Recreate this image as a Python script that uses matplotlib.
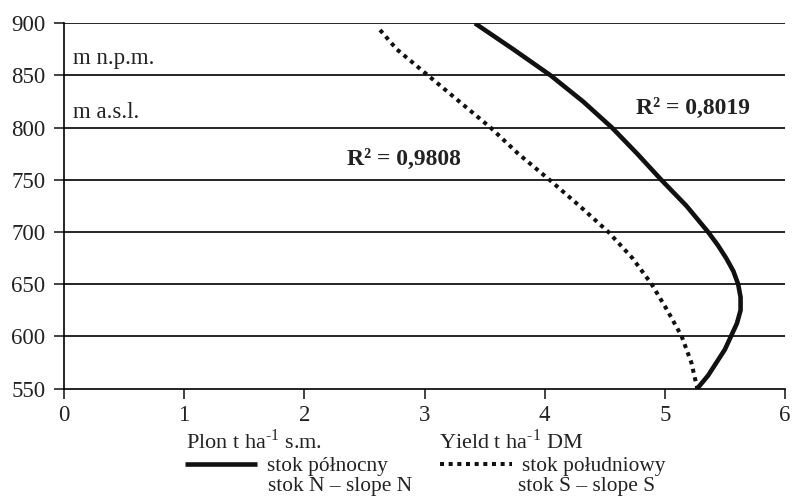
import numpy as np
import matplotlib.pyplot as plt

plt.rcParams['font.family'] = ['Liberation Serif', 'DejaVu Serif']
plt.rcParams['mathtext.fontset'] = 'custom'
plt.rcParams['mathtext.rm'] = 'Liberation Serif'

# altitude (m a.s.l.) and yield (t/ha DM)
alt_n = [900, 875, 850, 825, 800, 775, 750, 725, 700, 687.5, 675, 662.5, 650, 637.5,
         625, 612.5, 600, 587.5, 575, 562.5, 550]
yield_n = [3.42, 3.74, 4.05, 4.32, 4.56, 4.77, 4.97, 5.18, 5.36, 5.44, 5.51, 5.57, 5.61, 5.63,
           5.63, 5.60, 5.55, 5.50, 5.43, 5.36, 5.27]
alt_s = [893.6, 875, 850, 825, 800, 775, 750, 725, 700, 675, 650, 625, 600, 575, 550]
yield_s = [2.63, 2.77, 3.03, 3.29, 3.55, 3.78, 4.04, 4.29, 4.53, 4.73, 4.89, 5.02, 5.14, 5.22, 5.27]

r2_n = 'R² = 0,8019'
r2_s = 'R² = 0,9808'

fig = plt.figure(figsize=(7.92, 4.96), dpi=100)
ax = fig.add_axes([0.0808, 0.2167, 0.9104, 0.7363])

line_n, = ax.plot(yield_n, alt_n, color='#111111', lw=3.3, solid_capstyle='butt',
                  solid_joinstyle='round')
line_s, = ax.plot(yield_s, alt_s, color='#111111', lw=2.9, linestyle=(0, (1, 1.15)))

ax.set_xlim(0, 6)
ax.set_ylim(550, 900)
ax.set_xticks(range(0, 7))
ax.set_yticks(range(550, 901, 50))
for y in range(600, 901, 50):
    ax.axhline(y, color='black', lw=1.2, zorder=0)
for s in ['top', 'right']:
    ax.spines[s].set_visible(False)
for s in ['left', 'bottom']:
    ax.spines[s].set_linewidth(1.2)
ax.tick_params(axis='both', labelsize=16.5, length=7, width=1.2, direction='out', colors='#222222')
ax.tick_params(axis='x', pad=5)
ax.tick_params(axis='y', pad=6.5)

ax.text(0.075, 866, 'm n.p.m.', fontsize=16.5, va='center', color='#222222')
ax.text(0.075, 815, 'm a.s.l.', fontsize=16.5, va='center', color='#222222')
ax.text(4.76, 818, r2_n, fontsize=17, fontweight='bold', va='center', color='#222222')
ax.text(2.355, 770, r2_s, fontsize=17, fontweight='bold', va='center', color='#222222')

fig.text(0.2348, 0.109, r'Plon t ha$^{\text{-1}}$ s.m.', fontsize=16, va='center', color='#222222')
fig.text(0.5543, 0.109, r'Yield t ha$^{\text{-1}}$ DM', fontsize=16, va='center', color='#222222')

leg_kw = dict(loc='center left', frameon=False, fontsize=15.4, handlelength=3.35,
              handletextpad=0.5, borderpad=0, borderaxespad=0, labelcolor='#222222')
leg1 = fig.legend([line_n], ['stok północny'], bbox_to_anchor=(185 / 792, 1 - 466 / 496), **leg_kw)
leg2 = fig.legend([line_s], ['stok południowy'], bbox_to_anchor=(440 / 792, 1 - 466 / 496), **leg_kw)
fig.text(268 / 792, 1 - 487 / 496, 'stok N – slope N', fontsize=15.4, va='center', color='#222222')
fig.text(518 / 792, 1 - 487 / 496, 'stok S – slope S', fontsize=15.4, va='center', color='#222222')

fig.savefig('out.png', dpi=100)
